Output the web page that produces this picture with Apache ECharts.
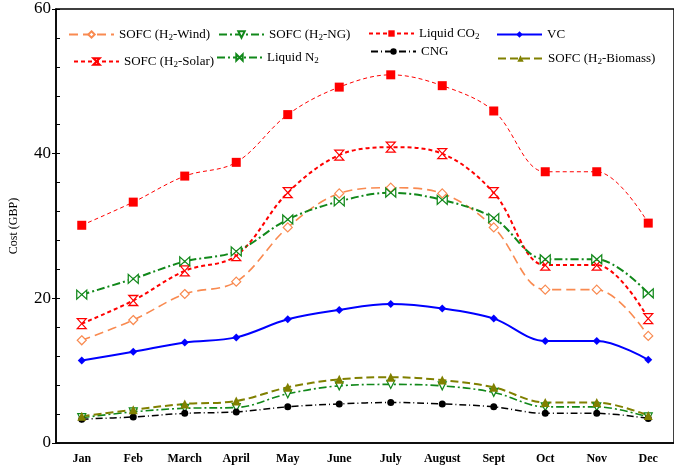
<!DOCTYPE html>
<html><head><meta charset="utf-8">
<script src="https://cdn.jsdelivr.net/npm/echarts@6/dist/echarts.min.js"></script>
<style>html,body{margin:0;padding:0;background:#fff}#c{width:674px;height:465px}</style>
</head><body><div id="c"></div>
<script>
const months = ['Jan','Feb','March','April','May','June','July','August','Sept','Oct','Nov','Dec'];
const yTicks = [0, 20, 40, 60];
const sofcWind    = [14.2, 17.0, 20.6, 22.3, 29.8, 34.5, 35.3, 34.5, 29.8, 21.2, 21.2, 14.8];
const sofcNG      = [3.5, 4.3, 4.8, 4.9, 6.8, 7.9, 8.1, 7.9, 7.0, 5.0, 5.0, 3.6];
const liquidCO2   = [30.1, 33.3, 36.9, 38.8, 45.4, 49.2, 50.9, 49.4, 45.9, 37.5, 37.5, 30.4];
const vc          = [11.4, 12.6, 13.9, 14.6, 17.1, 18.4, 19.2, 18.6, 17.2, 14.1, 14.1, 11.5];
const sofcSolar   = [16.5, 19.7, 23.8, 25.9, 34.6, 39.8, 40.9, 40.0, 34.6, 24.6, 24.6, 17.2];
const liquidN2    = [20.5, 22.7, 25.1, 26.5, 30.9, 33.4, 34.6, 33.6, 31.1, 25.4, 25.4, 20.7];
const cng         = [3.3, 3.6, 4.1, 4.3, 5.0, 5.4, 5.6, 5.4, 5.0, 4.1, 4.1, 3.4];
const sofcBiomass = [3.7, 4.6, 5.4, 5.8, 7.7, 8.8, 9.1, 8.7, 7.7, 5.6, 5.6, 3.8];

const serif = '"Liberation Serif","DejaVu Serif",serif';
const hourglass = 'path://M0,0 L10,0 L0,12 L10,12 Z';
const bowtie = 'path://M0,0 L12,10 L12,0 L0,10 Z';

function mk(name, data, color, opts) {
  return {
    name, type: 'line', data, smooth: 0.35, color,
    lineStyle: Object.assign({ color, width: 1.5 }, opts.line || {}),
    symbol: opts.symbol, symbolSize: opts.size || 8, symbolRotate: opts.rotate || 0,
    itemStyle: opts.hollow ? { color: '#fff', borderColor: color, borderWidth: 1.2 } : { color },
    z: 2
  };
}

const series = [
  mk('SOFC (H2-Wind)', sofcWind, '#F98A50', { symbol: 'diamond', size: 9, hollow: true, line: { type: [9, 5], width: 1.6 } }),
  mk('SOFC (H2-NG)', sofcNG, '#11881A', { symbol: 'triangle', rotate: 180, size: 8, hollow: true, line: { type: [8, 3, 2, 3], width: 1.6 } }),
  mk('Liquid CO2', liquidCO2, '#FF0000', { symbol: 'rect', size: 9, line: { type: [4, 3], width: 1 } }),
  mk('VC', vc, '#0000FF', { symbol: 'diamond', size: 8, line: { type: 'solid', width: 2 } }),
  mk('SOFC (H2-Solar)', sofcSolar, '#FF0000', { symbol: hourglass, size: [9, 10], hollow: true, line: { type: [4, 3], width: 2 } }),
  mk('Liquid N2', liquidN2, '#11881A', { symbol: bowtie, size: [10, 9], hollow: true, line: { type: [8, 3, 2, 3], width: 2 } }),
  mk('CNG', cng, '#000000', { symbol: 'circle', size: 7, line: { type: [7, 3, 1, 3], width: 1.5 } }),
  mk('SOFC (H2-Biomass)', sofcBiomass, '#808000', { symbol: 'triangle', size: 9, line: { type: [8, 4], width: 2 } })
];

const legendPos = [
  ['SOFC (H2-Wind)', 68, 28],
  ['SOFC (H2-NG)', 218, 28],
  ['Liquid CO2', 368, 27],
  ['VC', 496, 28],
  ['SOFC (H2-Solar)', 73, 55],
  ['Liquid N2', 216, 51],
  ['CNG', 370, 45],
  ['SOFC (H2-Biomass)', 497, 52]
];
const legends = legendPos.map(([n, x, y]) => ({
  data: [n], left: x, top: y, padding: 0, itemWidth: 45, itemHeight: 8,
  formatter: s => s.replace(/([HNO])2/, '$1{s|2}'),
  textStyle: { fontFamily: serif, fontSize: 13, color: '#000',
    rich: { s: { fontFamily: serif, fontSize: 9, padding: [7, 0, 0, 0], color: '#000' } } }
}));

const chart = echarts.init(document.getElementById('c'), null, { renderer: 'canvas' });
chart.setOption({
  animation: false,
  backgroundColor: '#fff',
  grid: { left: 53, top: 9, width: 624, height: 437, show: true, borderColor: '#000', borderWidth: 1.5 },
  legend: legends,
  xAxis: {
    type: 'category', data: months, boundaryGap: true,
    axisLine: { lineStyle: { color: '#000', width: 1.5 } },
    axisTick: { inside: true, length: 5, lineStyle: { color: '#000', width: 1.2 } },
    axisLabel: {
      margin: 10, fontFamily: serif, fontSize: 12, fontWeight: 'bold', color: '#000',
      formatter: v => v === 'Dec' ? '{d|' + v + '}' : v,
      rich: { d: { fontFamily: serif, fontSize: 12, fontWeight: 'bold', color: '#000', padding: [0, 0, 10, 0] } }
    }
  },
  yAxis: [{
    type: 'value', min: yTicks[0], max: yTicks[yTicks.length - 1], interval: 20,
    name: 'Cost (GBP)', nameLocation: 'middle', nameGap: 36, nameRotate: 90,
    nameTextStyle: { fontFamily: serif, fontSize: 12, color: '#000' },
    axisLine: { show: true, lineStyle: { color: '#000', width: 1.5 } },
    axisTick: { show: true, inside: false, length: 4, lineStyle: { color: '#000' } },
    axisLabel: { fontFamily: serif, fontSize: 17, color: '#000', margin: 5 },
    splitLine: { show: false }
  }, {
    type: 'value', min: 0, max: 60, interval: 4, position: 'left',
    axisLine: { show: false },
    axisTick: { show: true, inside: true, length: 4, lineStyle: { color: '#000' } },
    axisLabel: { show: false }, splitLine: { show: false }
  }],
  series
});
</script></body></html>
